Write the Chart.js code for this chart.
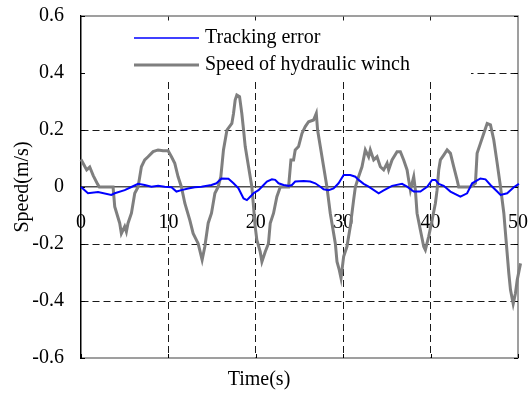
<!DOCTYPE html>
<html>
<head>
<meta charset="utf-8">
<script src="https://cdn.jsdelivr.net/npm/chart.js@4/dist/chart.umd.min.js"></script>
<style>
  html, body { margin: 0; padding: 0; background: #fff; }
</style>
</head>
<body>
<canvas id="speedChart" width="529" height="394"></canvas>
<script>
// time (s) and values (m/s)
const winchTime = [
  0, 0.3, 0.65, 1.0, 1.4, 1.9, 2.1, 3.67, 3.86, 4.43, 4.62, 5.0, 5.19, 5.38, 5.77, 6.15, 6.53,
  6.91, 7.29, 7.67, 8.25, 8.82, 9.39, 9.97, 10.35, 10.73, 11.11, 11.49, 11.88, 12.45, 12.83,
  13.4, 13.86, 14.17, 14.55, 14.93, 15.32, 15.69, 16.0, 16.3, 16.7, 17.26, 17.45, 17.64, 17.83,
  18.14, 18.4, 18.6, 18.79, 19.17, 19.55, 19.74, 19.93, 20.12, 20.5, 20.7, 21.08, 21.45, 21.65,
  22.03, 22.41, 22.8, 23.75, 24.02, 24.32, 24.51, 24.89, 25.28, 25.66, 26.04, 26.61, 26.92,
  27.07, 27.38, 27.76, 28.14, 28.52, 29.1, 29.29, 29.55, 29.75, 30.05, 30.43, 30.81, 31.19,
  31.39, 31.76, 32.15, 32.53, 32.91, 33.1, 33.49, 33.87, 34.25, 34.63, 35.02, 35.2, 35.59,
  36.16, 36.54, 36.92, 37.31, 37.49, 37.69, 38.07, 38.26, 38.45, 38.83, 39.21, 39.4, 39.78,
  40.17, 40.55, 40.74, 40.93, 41.12, 41.5, 41.89, 42.27, 42.65, 43.03, 43.22, 44.56, 45.13,
  45.32, 45.7, 46.08, 46.47, 46.85, 47.23, 47.62, 48.0, 48.38, 48.57, 48.76, 48.95, 49.14,
  49.45, 49.71, 49.91, 50.29, 50.6
];
const winchSpeed = [
  0.097, 0.08, 0.06, 0.07, 0.04, 0.01, 0, 0, -0.069, -0.127, -0.163, -0.139, -0.157, -0.127, -0.092, -0.022, 0,
  0.071, 0.095, 0.106, 0.124, 0.13, 0.127, 0.127, 0.106, 0.083, 0.036, 0, -0.057, -0.116, -0.163,
  -0.198, -0.256, -0.209, -0.127, -0.092, -0.022, 0, 0.036, 0.13, 0.2, 0.223, 0.258, 0.305, 0.323,
  0.317, 0.258, 0.2, 0.142, 0.071, 0, -0.069, -0.139, -0.186, -0.227, -0.262, -0.227, -0.198, -0.127,
  -0.092, -0.034, 0, 0, 0.095, 0.095, 0.13, 0.142, 0.188, 0.212, 0.229, 0.235, 0.258,
  0.2, 0.142, 0.071, 0, -0.092, -0.198, -0.262, -0.291, -0.32, -0.244, -0.209, -0.139, -0.046,
  0, 0.036, 0.071, 0.13, 0.106, 0.13, 0.095, 0.106, 0.071, 0.06, 0.083, 0.06, 0.095,
  0.124, 0.124, 0.095, 0.06, 0.025, -0.011, 0.036, -0.011, -0.092, -0.151, -0.209, -0.221, -0.174,
  -0.116, -0.057, -0.011, 0.06, 0.095, 0.112, 0.13, 0.118, 0.071, 0.025, 0, 0, 0.013,
  0.118, 0.153, 0.188, 0.223, 0.218, 0.165, 0.083, 0, -0.092, -0.163, -0.233, -0.303, -0.361,
  -0.41, -0.373, -0.326, -0.268, -0.186
];
const errorTime = [
  0, 0.8, 1.95, 3.47, 3.86, 5.0, 5.77, 6.53, 7.29, 8.06, 8.82, 9.58, 10.35, 10.92, 11.49, 12.26,
  13.02, 13.78, 14.93, 15.5, 16.07, 16.87, 17.45, 18.02, 18.6, 18.98, 19.36, 19.74, 20.31, 20.7,
  21.27, 21.84, 22.22, 22.6, 23.18, 23.75, 24.13, 24.51, 25.47, 26.23, 26.8, 27.38, 27.76, 28.33,
  28.9, 29.47, 30.05, 30.81, 31.39, 31.76, 32.34, 32.91, 34.06, 34.63, 35.59, 36.73, 37.31, 38.07,
  38.83, 39.6, 40.17, 40.55, 40.93, 41.5, 42.27, 43.41, 44.18, 44.75, 45.7, 46.28, 46.85, 47.62,
  48.0, 48.76, 49.52, 50.1, 50.67
];
const trackingError = [
  0, -0.022, -0.018, -0.028, -0.022, -0.011, 0, 0.011, 0.007, 0.001, 0.004, 0.001, -0.001, -0.016, -0.011, -0.005,
  -0.001, 0.001, 0.007, 0.013, 0.03, 0.029, 0.013, -0.005, -0.04, -0.046, -0.034, -0.022, -0.011, 0.001,
  0.019, 0.027, 0.025, 0.013, 0.007, 0.004, 0.007, 0.019, 0.021, 0.019, 0.013, 0.001, -0.008, -0.011,
  -0.005, 0.013, 0.042, 0.042, 0.036, 0.025, 0.011, 0.001, -0.022, -0.012, 0.004, 0.011, 0.001, -0.016,
  -0.016, 0.001, 0.025, 0.025, 0.011, 0.004, -0.016, -0.034, -0.022, 0.013, 0.03, 0.027, 0.007, -0.016,
  -0.028, -0.022, -0.001, 0.011, 0.036
];
const xTicks = [0, 10, 20, 30, 40, 50];
const yTicks = [-0.6, -0.4, -0.2, 0, 0.2, 0.4, 0.6];

const serif = "'Liberation Serif', 'Times New Roman', serif";

function toPoints(xs, ys) {
    return xs.map((x, i) => ({ x: x, y: ys[i] }));
}

function tickText(v) {
    if (Math.abs(v) < 1e-9) return '0';
    return Number.isInteger(v) ? String(v) : v.toFixed(1);
}

// hide gridlines that sit on the frame or on the zero line
function gridColor(lo, hi) {
    return (c) => {
        const v = c.tick ? c.tick.value : null;
        if (v === null) return 'rgba(0,0,0,0)';
        if (Math.abs(v - lo) < 1e-6 || Math.abs(v - hi) < 1e-6) return 'rgba(0,0,0,0)';
        if (lo < 0 && Math.abs(v) < 1e-6) return 'rgba(0,0,0,0)';
        return '#1a1a1a';
    };
}

// white legend box inside the axes, gray frame and small inward ticks
const framePlugin = {
    id: 'frame',
    beforeDatasetsDraw(chart, args, opts) {
        const { ctx, chartArea: a } = chart;
        const xs = chart.scales.x, ys = chart.scales.y;
        ctx.save();

        ctx.fillStyle = '#fff';
        ctx.fillRect(a.left + 1, a.top + opts.boxTop, opts.boxRight - a.left - 1, opts.boxHeight);

        ctx.strokeStyle = '#808080';
        ctx.lineWidth = 1.5;
        ctx.beginPath();
        ctx.moveTo(a.left, a.top);
        ctx.lineTo(a.right, a.top);
        ctx.lineTo(a.right, a.bottom);
        ctx.lineTo(a.left, a.bottom);
        ctx.stroke();

        ctx.strokeStyle = '#000';
        ctx.lineWidth = 1;
        ctx.beginPath();
        yTicks.forEach(v => {
            const py = Math.round(ys.getPixelForValue(v)) + 0.5;
            ctx.moveTo(a.left, py); ctx.lineTo(a.left + 4, py);
            ctx.moveTo(a.right, py); ctx.lineTo(a.right - 4, py);
        });
        xTicks.forEach(v => {
            const px = Math.round(xs.getPixelForValue(v)) + 0.5;
            ctx.moveTo(px, a.bottom); ctx.lineTo(px, a.bottom - 4);
        });
        ctx.stroke();

        ctx.font = '20px ' + serif;
        ctx.textBaseline = 'middle';
        ctx.textAlign = 'left';
        chart.data.datasets.forEach((ds, i) => {
            const y = a.top + opts.firstRow + i * opts.rowGap;
            ctx.strokeStyle = ds.borderColor;
            ctx.lineWidth = ds.legendWidth || ds.borderWidth;
            ctx.beginPath();
            ctx.moveTo(a.left + opts.lineStart, y);
            ctx.lineTo(a.left + opts.lineEnd, y);
            ctx.stroke();
            ctx.fillStyle = '#000';
            ctx.fillText(ds.label, a.left + opts.textStart, y);
        });
        ctx.restore();
    }
};

new Chart(document.getElementById('speedChart'), {
    type: 'line',
    data: {
        datasets: [
            {
                label: 'Tracking error',
                data: toPoints(errorTime, trackingError),
                borderColor: '#0000ff',
                borderWidth: 2,
                legendWidth: 1.5,
                pointRadius: 0,
                tension: 0,
                clip: false,
                order: 0
            },
            {
                label: 'Speed of hydraulic winch',
                data: toPoints(winchTime, winchSpeed),
                borderColor: '#7f7f7f',
                borderWidth: 3,
                pointRadius: 0,
                tension: 0,
                clip: false,
                order: 1
            }
        ]
    },
    plugins: [framePlugin],
    options: {
        responsive: false,
        animation: false,
        events: [],
        layout: { padding: { top: 16, right: 11, left: 0, bottom: 0 } },
        scales: {
            x: {
                type: 'linear',
                min: 0,
                max: 50,
                position: { y: 0 },
                ticks: {
                    stepSize: 10,
                    autoSkip: false,
                    maxRotation: 0,
                    padding: 24,
                    color: '#000',
                    font: { family: serif, size: 20 },
                    callback: tickText
                },
                grid: { color: gridColor(0, 50), lineWidth: 1, drawTicks: false },
                border: { color: '#505050', width: 1.5, dash: [7, 4] },
                afterFit(scale) { scale.paddingLeft = 0; scale.paddingRight = 0; }
            },
            y: {
                min: -0.6,
                max: 0.6,
                ticks: {
                    stepSize: 0.2,
                    padding: 17,
                    color: '#000',
                    font: { family: serif, size: 20 },
                    callback: tickText
                },
                grid: { color: gridColor(-0.6, 0.6), lineWidth: 1, drawTicks: false },
                border: { color: '#000', width: 1.5, dash: [7, 4] },
                title: {
                    display: true,
                    text: 'Speed(m/s)',
                    color: '#000',
                    font: { family: serif, size: 20 },
                    padding: { top: 11, bottom: 0 }
                },
                afterFit(scale) {
                    scale.width = 81;
                    scale.paddingTop = 0;
                    scale.paddingBottom = 0;
                }
            }
        },
        plugins: {
            legend: { display: false },
            tooltip: { enabled: false },
            title: {
                display: true,
                position: 'bottom',
                text: 'Time(s)',
                color: '#000',
                font: { family: serif, size: 20, weight: 'normal' },
                padding: { top: 10, bottom: 2 }
            },
            frame: {
                boxTop: 4.5, boxHeight: 60, boxRight: 471,
                firstRow: 22, rowGap: 27,
                lineStart: 53, lineEnd: 118, textStart: 124
            }
        }
    }
});
</script>
</body>
</html>
